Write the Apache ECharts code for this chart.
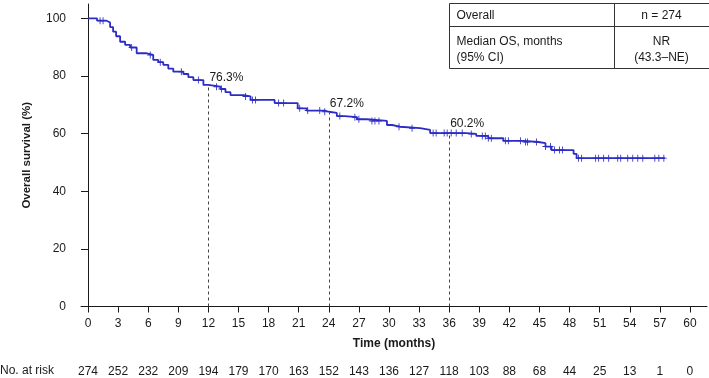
<!DOCTYPE html>
<html>
<head>
<meta charset="utf-8">
<script src="https://cdn.jsdelivr.net/npm/echarts@6/dist/echarts.min.js"></script>
<style>
  html, body { margin: 0; padding: 0; background: #fff; }
  #chart { width: 709px; height: 378px; }
</style>
</head>
<body>
<div id="chart"></div>
<script>
// KM step points: time (months) and survival (%) after each drop
const stepTimes = [0, 0.9, 1.85, 2.2, 2.5, 2.8, 3.2, 3.7, 4.2, 4.85, 5.85, 6.5, 7.0, 7.5, 8.0, 8.5, 9.5, 10.0, 10.5, 11.5, 12.0,
  13.2, 13.7, 14.2, 15.5, 16.2, 18.6, 20.9, 21.8, 23.6, 24.0, 24.8, 25.6, 26.8, 27.8, 29.8, 30.3, 31.1, 33.1, 34.1,
  37.7, 38.7, 39.9, 41.4, 43.4, 44.9, 45.6, 46.2, 48.4, 48.7, 57.5];
const stepSurv = [100, 99.2, 98.6, 97.0, 95.4, 93.8, 91.9, 90.8, 89.9, 87.9, 87.3, 85.6, 84.8, 83.9, 82.6, 81.5, 80.7, 79.6, 78.6, 76.9, 76.3,
  75.5, 74.4, 73.4, 72.9, 71.7, 70.6, 68.8, 68.0, 67.6, 67.2, 66.1, 65.7, 65.0, 64.4, 63.0, 62.4, 61.9, 61.3, 60.2,
  59.9, 59.2, 58.4, 57.5, 57.1, 56.7, 55.5, 54.3, 53.0, 51.5, 51.5];

// censored observations (months)
const censorTimes = [1.2, 1.5, 4.35, 6.2, 7.2, 9.3, 11.0, 12.8, 13.3, 15.7, 16.4, 16.7, 19.0, 19.5, 21.1, 21.9, 23.1, 23.6,
  25.1, 26.6, 27.0, 28.3, 28.6, 29.0, 31.0, 32.3, 34.4, 34.7, 35.5, 35.8, 36.2, 36.7, 37.3, 38.2, 39.3, 39.6, 39.9, 40.2,
  41.6, 41.9, 43.1, 43.6, 43.8, 44.7, 45.6, 46.1, 46.5, 47.0, 47.3, 48.9, 49.2, 50.6, 50.9, 51.4, 51.9, 52.8, 53.1,
  53.8, 54.3, 54.8, 55.3, 56.5, 56.9, 57.4];

const milestoneTimes = [12, 24, 36];
const milestoneSurv = [76.3, 67.2, 60.2];

const xTicks = [0, 3, 6, 9, 12, 15, 18, 21, 24, 27, 30, 33, 36, 39, 42, 45, 48, 51, 54, 57, 60];
const atRisk = [274, 252, 232, 209, 194, 179, 170, 163, 152, 143, 136, 127, 118, 103, 88, 68, 44, 25, 13, 1, 0];
const yTicks = [0, 20, 40, 60, 80, 100];

function survAt(t) {
  let s = stepSurv[0];
  for (let i = 0; i < stepTimes.length; i++) {
    if (stepTimes[i] <= t) s = stepSurv[i];
  }
  return s;
}

const font = 'Liberation Sans, Arial, sans-serif';
const ink = '#1a1a1a';
const blue = '#2c2cc4';
const cross = 'path://M-0.14,-1H0.14V-0.14H1V0.14H0.14V1H-0.14V0.14H-1V-0.14H-0.14Z';

const chart = echarts.init(document.getElementById('chart'));

chart.setOption({
  animation: false,
  textStyle: { fontFamily: font },
  grid: { left: 81, top: 4, width: 626, height: 302.5, containLabel: false },
  xAxis: [
    {
      type: 'value', min: -0.7, max: 61.7,
      name: 'Time (months)', nameLocation: 'middle', nameGap: 31,
      nameTextStyle: { fontWeight: 'bold', fontSize: 12, color: ink, fontFamily: font },
      axisLine: { onZero: false, lineStyle: { color: ink, width: 1 } },
      axisTick: { length: 6, customValues: xTicks, lineStyle: { color: ink } },
      axisLabel: { customValues: xTicks, margin: 11, fontSize: 12, color: ink, fontFamily: font },
      splitLine: { show: false }
    },
    {
      type: 'value', min: -0.7, max: 61.7, position: 'bottom', gridIndex: 0,
      axisLine: { show: false }, axisTick: { show: false }, splitLine: { show: false },
      axisLabel: {
        customValues: xTicks, margin: 59, fontSize: 12, color: ink, fontFamily: font,
        formatter: v => String(atRisk[xTicks.indexOf(Math.round(v))])
      }
    }
  ],
  yAxis: {
    type: 'value', min: 0, max: 105,
    name: 'Overall survival (%)', nameLocation: 'middle', nameGap: 48,
    nameTextStyle: { fontWeight: 'bold', fontSize: 11.5, color: ink, fontFamily: font },
    axisLine: { show: true, onZero: true, lineStyle: { color: ink, width: 1 } },
    axisTick: { show: true, length: 7, customValues: yTicks, lineStyle: { color: ink } },
    axisLabel: { customValues: yTicks, margin: 15, fontSize: 12, color: ink, fontFamily: font },
    splitLine: { show: false }
  },
  graphic: [
    {
      type: 'group', left: 447, top: 1,
      children: [
        { type: 'rect', shape: { x: 0, y: 0, width: 260, height: 65 }, style: { fill: '#fff', stroke: '#333', lineWidth: 1 } },
        { type: 'line', shape: { x1: 0, y1: 23, x2: 260, y2: 23 }, style: { stroke: '#333', lineWidth: 1 } },
        { type: 'line', shape: { x1: 165, y1: 0, x2: 165, y2: 65 }, style: { stroke: '#333', lineWidth: 1 } },
        { type: 'text', x: 7, y: 12, style: { text: 'Overall', font: '12px ' + font, fill: ink, verticalAlign: 'middle' } },
        { type: 'text', x: 212, y: 12, style: { text: 'n = 274', font: '12px ' + font, fill: ink, align: 'center', verticalAlign: 'middle' } },
        { type: 'text', x: 7, y: 38, style: { text: 'Median OS, months', font: '12px ' + font, fill: ink, verticalAlign: 'middle' } },
        { type: 'text', x: 7, y: 54, style: { text: '(95% CI)', font: '12px ' + font, fill: ink, verticalAlign: 'middle' } },
        { type: 'text', x: 212, y: 38, style: { text: 'NR', font: '12px ' + font, fill: ink, align: 'center', verticalAlign: 'middle' } },
        { type: 'text', x: 212, y: 54, style: { text: '(43.3\u2013NE)', font: '12px ' + font, fill: ink, align: 'center', verticalAlign: 'middle' } }
      ]
    },
    { type: 'text', left: 0, top: 365, style: { text: 'No. at risk', font: '12px ' + font, fill: ink } }
  ],
  series: [
    {
      name: 'Overall', type: 'line', step: 'end', symbol: 'none',
      lineStyle: { color: blue, width: 1.8 },
      data: stepTimes.map((t, i) => [t, stepSurv[i]]),
      markLine: {
        silent: true, symbol: 'none', label: { show: false },
        lineStyle: { color: '#444', type: [3, 3], width: 1 },
        data: milestoneTimes.map((t, i) => [{ coord: [t, 0] }, { coord: [t, milestoneSurv[i]] }])
      },
      z: 3
    },
    {
      name: 'Censored', type: 'scatter', symbol: cross, symbolSize: [6, 7],
      itemStyle: { color: blue, opacity: 1 },
      data: censorTimes.map(t => [t, survAt(t)]),
      z: 4
    },
    {
      name: 'Milestones', type: 'scatter', symbolSize: 0,
      itemStyle: { opacity: 1 },
      data: milestoneTimes.map((t, i) => [t, milestoneSurv[i]]),
      label: {
        show: true, position: [1, -9], align: 'left', verticalAlign: 'middle',
        fontSize: 12, color: ink, fontFamily: font,
        formatter: p => p.value[1].toFixed(1) + '%'
      },
      z: 5
    }
  ]
});
</script>
</body>
</html>
